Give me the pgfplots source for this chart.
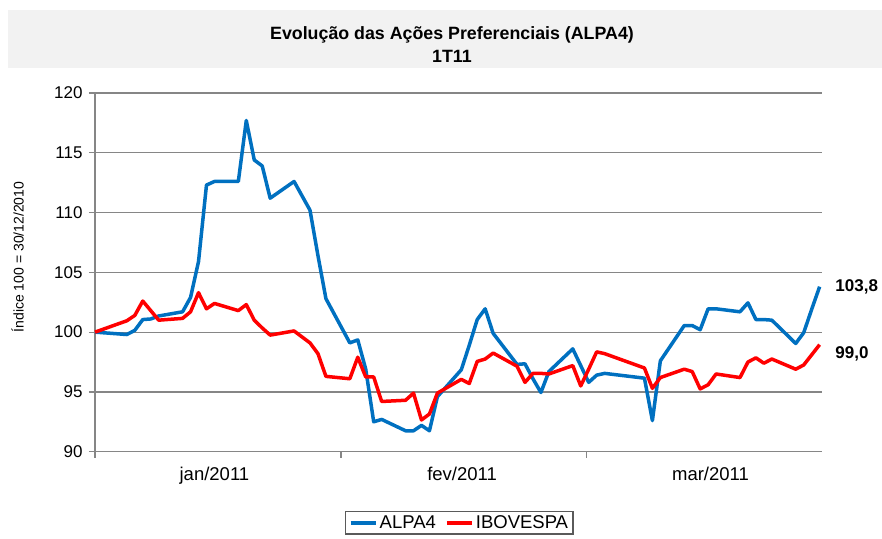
\documentclass[border=0pt]{standalone}
\usepackage{fontspec}
\setmainfont{Liberation Sans}
\usepackage{pgfplots}
\pgfplotsset{compat=1.18}
\definecolor{alpa}{RGB}{0,112,192}
\definecolor{ibov}{RGB}{255,0,0}
\definecolor{gridc}{RGB}{134,134,134}
\definecolor{legc}{RGB}{90,90,90}
\definecolor{titlebg}{RGB}{242,242,242}

\pgfplotstableread{
d v
0 100.0
4 99.8
5 100.15
6 101.05
7 101.1
8 101.35
11 101.7
12 102.9
13 105.9
14 112.3
15 112.6
18 112.6
19 117.7
20 114.4
21 113.9
22 111.2
25 112.6
27 110.2
28 106.4
29 102.8
32 99.1
33 99.35
34 96.9
35 92.5
36 92.7
39 91.75
40 91.75
41 92.2
42 91.75
43 94.6
46 96.85
47 98.9
48 101.05
49 101.95
50 99.9
53 97.3
54 97.35
55 96.1
56 94.95
57 96.7
60 98.6
61 97.2
62 95.8
63 96.4
64 96.55
69 96.15
70 92.6
71 97.6
74 100.55
75 100.55
76 100.2
77 101.95
78 101.95
81 101.7
82 102.45
83 101.05
84 101.05
85 101.0
88 99.05
89 99.95
90 101.9
91 103.8
}\alpatable

\pgfplotstableread{
d v
0 100.0
4 100.95
5 101.4
6 102.6
7 101.8
8 101.0
11 101.15
12 101.7
13 103.3
14 101.95
15 102.4
18 101.8
19 102.3
20 101.0
21 100.35
22 99.75
25 100.1
27 99.1
28 98.2
29 96.3
32 96.1
33 97.9
34 96.25
35 96.25
36 94.2
39 94.3
40 94.9
41 92.65
42 93.15
43 94.9
46 96.05
47 95.7
48 97.55
49 97.75
50 98.25
53 97.15
54 95.8
55 96.55
56 96.55
57 96.5
60 97.2
61 95.5
62 96.9
63 98.35
64 98.2
69 97.0
70 95.3
71 96.2
74 96.9
75 96.7
76 95.25
77 95.6
78 96.5
81 96.2
82 97.5
83 97.85
84 97.4
85 97.75
88 96.9
89 97.25
90 98.1
91 98.95
}\ibovtable

\begin{document}
\begin{tikzpicture}
\begin{axis}[
  name=ax,
  scale only axis, width=727bp, height=358.7bp,
  xmin=0, xmax=91.3, ymin=90, ymax=120,
  ytick={90,95,...,120},
  xtick={0,30.9,61.7}, xticklabels={,,},
  extra x ticks={15,46.1,77.3},
  extra x tick labels={jan/2011,fev/2011,mar/2011},
  extra x tick style={major tick length=0pt, grid=none},
  axis x line*=bottom, axis y line*=left,
  axis line style={gridc, line width=1.2bp},
  ymajorgrids,
  major grid style={gridc, line width=1.2bp},
  tick align=outside,
  tick style={gridc, line width=1.2bp},
  major tick length=6bp,
  /pgf/number format/assume math mode=true,
  yticklabel style={font=\fontsize{17bp}{17bp}\selectfont, xshift=-3bp},
  xticklabel style={font=\fontsize{18.5bp}{18.5bp}\selectfont, yshift=-12bp},
  clip=false,
  legend style={at={(0.344,-0.1653)}, anchor=north west, legend columns=2,
    draw=legc, line width=1.2bp, font=\fontsize{18.5bp}{21bp}\selectfont,
    /tikz/every even column/.append style={column sep=7bp}},
  legend image code/.code={\draw[#1, line width=4bp] (0bp,0bp) -- (25bp,0bp);},
]
\addplot[alpa, line width=3.5bp, line join=round] table[x=d, y=v] {\alpatable};
\addlegendentry{ALPA4}
\addplot[ibov, line width=3.5bp, line join=round] table[x=d, y=v] {\ibovtable};
\addlegendentry{IBOVESPA}
\node[anchor=west, inner sep=0pt, xshift=15.6bp, font=\bfseries\fontsize{17bp}{18bp}\selectfont] at (axis cs:91,103.8) {103,8};
\node[anchor=west, inner sep=0pt, xshift=15.6bp, yshift=-9.5bp, font=\bfseries\fontsize{17bp}{18bp}\selectfont] at (axis cs:91,99) {99,0};
\end{axis}
\begin{scope}[shift={(ax.south west)}, x=1bp, y=1bp]
\fill[titlebg] (-87,383.7) rectangle (787,441.7);
\node[font=\fontsize{17.8bp}{23bp}\selectfont\bfseries, align=center] at (357,407.2) {Evolução das Ações Preferenciais (ALPA4)\\1T11};
\node[rotate=90, font=\fontsize{14bp}{16bp}\selectfont] at (-77.5,194.7) {Índice 100 = 30/12/2010};
\end{scope}
\pgfresetboundingbox
\begin{scope}[shift={(ax.south west)}, x=1bp, y=1bp]
\useasboundingbox (-95,-87.3) rectangle (787,451.7);
\end{scope}
\end{tikzpicture}
\end{document}
